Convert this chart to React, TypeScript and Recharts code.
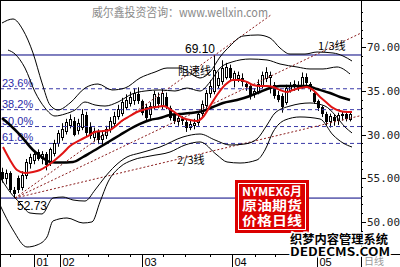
import React from 'react';
import { ComposedChart, Bar, Line, XAxis, YAxis, ReferenceLine } from 'recharts';

// Daily OHLC, one entry per trading day
const opens = [
  55.7, 54.9, 55.6, 53.7, 55.0, 53.9, 55.2, 56.6, 57.0, 58.0,
  57.2, 57.8, 56.8, 57.8, 58.9, 59.6, 60.3, 61.0, 61.6, 60.4,
  60.8, 62.2, 60.9, 59.6, 60.3, 59.4, 59.8, 60.5, 61.2, 62.0,
  62.4, 63.0, 63.5, 63.8, 64.6, 63.8, 63.2, 62.2, 63.1, 64.3,
  63.2, 64.3, 63.0, 62.2, 61.4, 61.8, 61.4, 60.8, 61.0, 61.3,
  62.3, 63.3, 64.6, 64.9, 65.6, 66.0, 66.5, 67.6, 66.2, 66.3,
  66.5, 65.8, 65.5, 64.5, 64.9, 65.6, 66.4, 66.5, 65.7, 64.5,
  64.4, 63.6, 65.0, 65.4, 65.7, 65.4, 66.6, 65.8, 64.8, 63.8,
  63.1, 62.4, 61.4, 62.0, 61.5, 62.1, 62.3, 61.7,
];
const highs = [
  56.2, 56.0, 55.8, 54.0, 55.3, 55.8, 57.2, 57.8, 58.2, 58.3,
  58.1, 58.0, 58.5, 59.4, 60.5, 61.3, 61.8, 62.3, 62.0, 61.8,
  62.9, 62.6, 61.4, 60.8, 60.6, 60.3, 61.0, 62.0, 62.6, 63.4,
  64.2, 64.6, 64.9, 65.3, 65.4, 64.0, 63.5, 63.7, 65.0, 64.8,
  65.2, 64.8, 63.3, 62.5, 62.2, 62.1, 61.8, 61.6, 61.8, 62.7,
  63.9, 65.1, 66.2, 69.1, 67.2, 68.5, 68.2, 68.0, 67.3, 67.2,
  67.0, 66.0, 65.8, 65.3, 66.3, 67.2, 67.7, 67.2, 66.0, 65.0,
  64.7, 65.7, 66.0, 66.2, 66.1, 67.1, 67.0, 66.0, 65.0, 64.0,
  63.3, 62.6, 62.4, 62.3, 62.5, 62.6, 62.7, 62.6,
];
const lows = [
  54.5, 54.3, 53.4, 52.73, 53.3, 53.6, 54.9, 56.1, 56.6, 57.0,
  56.6, 55.9, 56.4, 57.5, 58.6, 59.3, 60.0, 60.7, 59.8, 60.0,
  60.5, 59.8, 59.5, 59.2, 58.9, 58.7, 59.5, 60.2, 60.9, 61.7,
  62.1, 62.8, 63.2, 63.4, 63.5, 62.2, 61.6, 61.8, 62.9, 63.0,
  62.9, 62.9, 61.6, 61.2, 61.0, 61.1, 60.3, 60.5, 60.6, 61.0,
  62.0, 63.0, 64.2, 64.6, 65.3, 65.7, 66.3, 66.2, 65.4, 66.0,
  65.5, 65.0, 64.0, 64.2, 64.6, 65.3, 66.0, 64.7, 64.1, 63.7,
  62.5, 63.4, 64.8, 65.0, 65.0, 65.2, 65.5, 64.9, 63.5, 62.7,
  62.0, 61.0, 60.8, 61.0, 61.1, 61.6, 61.5, 61.5,
];
const closes = [
  54.9, 55.6, 53.7, 53.2, 53.7, 55.4, 56.9, 57.4, 57.8, 57.2,
  57.8, 56.5, 58.3, 59.0, 60.2, 60.6, 61.4, 61.8, 60.0, 61.3,
  62.4, 60.2, 59.8, 60.4, 59.4, 60.0, 60.6, 61.5, 62.1, 62.9,
  63.7, 63.9, 64.3, 64.8, 63.8, 62.5, 61.9, 63.3, 64.6, 63.5,
  64.7, 63.2, 61.9, 61.5, 61.9, 61.5, 60.8, 61.2, 61.3, 62.4,
  63.5, 64.7, 65.5, 67.4, 66.5, 67.6, 67.7, 66.5, 67.0, 66.8,
  66.0, 65.4, 64.4, 65.0, 65.8, 66.8, 67.2, 66.8, 64.4, 64.0,
  63.2, 65.3, 65.7, 65.8, 65.3, 66.6, 65.9, 65.2, 63.7, 63.0,
  62.3, 61.4, 62.1, 61.5, 62.2, 62.4, 61.8, 62.4,
];

// Moving averages: [day, price]
const maFast: [number, number][] = [
  [0, 58.57], [1.75, 57.09], [3.5, 55.94], [5.5, 55.6], [7.5, 55.71], [9.25, 55.94],
  [11, 56.4], [13, 57.09], [15, 57.89], [16.75, 58.69], [19.25, 59.37], [21.25, 59.83],
  [23, 60.29], [25, 60.4], [26.75, 60.52], [28.5, 61.09], [30, 61.66], [31.75, 62.12],
  [33.5, 62.58], [35, 62.81], [36.75, 63.04], [38.5, 63.15], [40, 63.26], [41.75, 62.92],
  [43.5, 62.35], [45, 61.89], [46.75, 61.66], [48.5, 61.55], [50, 62.01], [51.75, 63.26],
  [53.5, 64.52], [55.5, 65.67], [57.5, 66.24], [59.25, 66.24], [61, 66.01], [62.5, 65.67],
  [64.25, 65.55], [66, 65.55], [67.5, 65.44], [69.25, 65.1], [71, 64.87], [72.5, 65.1],
  [74.25, 65.32], [76, 65.44], [77.5, 65.1], [79.25, 64.29], [81, 63.61], [82.5, 63.04],
  [84.25, 62.69], [86, 62.58], [87.25, 62.58],
];
const maSlow: [number, number][] = [
  [-0.25, 61.89], [1.75, 61.09], [4.25, 59.95], [7.5, 58.23], [10, 57.31], [11.75, 56.86],
  [14.25, 56.8], [17.5, 56.86], [20, 57.43], [21.75, 57.89], [24.25, 58.57], [26.75, 59.26],
  [29.25, 59.95], [31.75, 60.63], [34.25, 61.21], [36.75, 61.66], [39.25, 61.89], [41.75, 62.24],
  [44.25, 62.35], [46.75, 62.46], [50, 62.69], [52.5, 63.15], [55, 63.61], [58.5, 63.95],
  [61.75, 64.41], [64.25, 64.87], [66.75, 65.32], [69.25, 65.55], [72.5, 65.55], [76, 65.55],
  [78.5, 65.21], [81.75, 64.75], [84.25, 64.29], [86.75, 63.95],
];

// Envelope bands: [day, price]
const bandUpperOuter: [number, number][] = [
  [-0.25, 72.76], [2.5, 73.22], [5, 71.96], [7.5, 69.33], [9.75, 65.9], [11.75, 63.38],
  [13.75, 62.81], [16.75, 63.61], [20.5, 65.32], [23.75, 65.78], [27.25, 65.1], [30.5, 65.32],
  [34.25, 66.47], [38, 67.15], [41, 67.61], [44.25, 67.61], [46.75, 67.04], [49.25, 66.47],
  [51.75, 67.15], [54.25, 68.87], [56.75, 70.13], [60, 71.27], [63.75, 71.39], [66.75, 71.05],
  [69.25, 69.9], [71.75, 69.21], [75.5, 69.21], [78.5, 69.44], [82.5, 69.33], [85, 68.99],
  [87.25, 68.41],
];
const bandUpperInner: [number, number][] = [
  [1.25, 69.67], [3, 69.21], [5.5, 67.61], [8, 64.87], [10.5, 63.04], [13, 62.12],
  [15.5, 62.35], [18, 62.81], [20.5, 63.72], [23, 63.38], [25.5, 63.26], [28.75, 63.72],
  [32.25, 64.64], [35.5, 64.98], [39.25, 65.1], [43, 64.98], [46, 65.32], [49.25, 64.98],
  [51.75, 66.01], [54.25, 67.61], [57.25, 68.3], [61.75, 68.64], [66, 68.53], [69.25, 68.07],
  [73.5, 67.73], [76.75, 67.5], [80, 67.5], [83.5, 67.73], [86.75, 66.93],
];
const bandLowerInner: [number, number][] = [
  [-0.75, 55.14], [1.75, 53.42], [4.25, 52.17], [6.75, 51.02], [9.75, 50.91], [12.5, 52.74],
  [15, 52.85], [17.5, 52.51], [20.5, 52.39], [23, 53.65], [25.5, 55.14], [28, 56.4],
  [31, 57.43], [34.25, 57.89], [39.25, 58.57], [45, 59.72], [49.25, 60.06], [53, 59.37],
  [56.75, 58.8], [60.5, 58.92], [63.5, 59.49], [66, 61.09], [68, 62.46], [71.75, 63.26],
  [76.75, 63.61], [80.5, 63.26], [83, 62.24], [85.5, 60.86], [87.25, 60.18],
];
const bandLowerOuter: [number, number][] = [
  [-0.75, 51.94], [2.5, 49.08], [6, 47.13], [8.5, 47.36], [11, 48.28], [12.5, 50.11],
  [16, 50.45], [20, 49.88], [22.25, 50.0], [24.25, 52.28], [26.25, 54.57], [29.25, 56.28],
  [32.5, 57.09], [36.75, 57.54], [41.75, 58.0], [45.5, 58.8], [49.25, 59.15], [53.5, 57.66],
  [56, 56.86], [59.25, 56.74], [63.5, 57.09], [65.5, 58.23], [67.5, 60.29], [70.5, 61.66],
  [74.25, 62.01], [79.25, 61.78], [82.5, 59.95], [85, 59.03], [87.25, 58.57],
];

// Speed resistance lines from the swing low
const speedLineFull: [number, number][] = [[3, 52.73], [67.25, 73.77]];
const speedLineTwoThirds: [number, number][] = [[3, 52.73], [89.5, 71.61]];
const speedLineOneThird: [number, number][] = [[3, 52.73], [89.5, 62.17]];

const swingHigh = 69.1;
const swingLow = 52.73;
const fibRatios = [0.236, 0.382, 0.5, 0.618];
const fibLabels = ['23.6%', '38.2%', '50.0%', '61.8%'];

const monthTicks = [7.75, 14.25, 34.75, 57.25, 78.5];
const monthLabels = ['01', '02', '03', '04', '05'];
const weekTicks = [1.75, 11, 21.25, 26.25, 31.75, 40, 45.5, 51.75, 63, 68, 73.5, 84.25];

const yMajorTicks = [70, 65, 60, 55, 50];
const yTickLabels = ['70.00', '35.00', '30.00', '55.00', '50.00'];
const yMinorTicks = [47, 48, 49, 51, 52, 53, 54, 56, 57, 58, 59, 61, 62, 63, 64, 66, 67, 68, 69, 71, 72, 73, 74];

const Y_DOMAIN: [number, number] = [46.33, 75.164];
const X_DOMAIN: [number, number] = [-0.5, 89.5];

const candleRows = opens.map((o, i) => ({ i, o, h: highs[i], l: lows[i], c: closes[i] }));
const toPts = (arr: [number, number][]) => arr.map(([i, v]) => ({ i, v }));
const fibLevels = fibRatios.map((r) => swingHigh - r * (swingHigh - swingLow));

const LABEL_FONT = 'Liberation Sans, Arial, sans-serif';
const CJK_FONT = 'Noto Sans CJK SC, sans-serif';

const Candle = (props: any) => {
  const { x, y, width, height, payload } = props;
  if (!payload || x == null || y == null) return null;
  const { o, h, l, c } = payload;
  const top = Math.min(y, y + height);
  const bot = Math.max(y, y + height);
  const span = h - l;
  const py = (v: number) => (span === 0 ? top : top + ((h - v) / span) * (bot - top));
  const X = Math.floor(x + width / 2);
  const bTop = Math.round(Math.min(py(o), py(c)));
  const bBot = Math.max(bTop + 1, Math.round(Math.max(py(o), py(c))));
  const up = c >= o;
  return (
    <g>
      <line x1={X + 0.5} x2={X + 0.5} y1={top} y2={bot} stroke="#000" strokeWidth={1} />
      {up ? (
        <rect x={X - 0.5} y={bTop + 0.5} width={2} height={Math.max(1, bBot - bTop - 1)} fill="#fff" stroke="#000" strokeWidth={1} />
      ) : (
        <rect x={X - 1} y={bTop} width={3} height={bBot - bTop} fill="#000" />
      )}
    </g>
  );
};

const XTick = (props: any) => {
  const { x, y, payload } = props;
  const idx = monthTicks.indexOf(payload.value);
  const px = Math.round(x) + 0.5;
  if (idx >= 0) {
    return (
      <g>
        <line x1={px} x2={px} y1={y} y2={y + 13} stroke="#000" />
        <text x={px + 2} y={y + 12} fontSize={11} fontFamily={LABEL_FONT} fill="#000">
          {monthLabels[idx]}
        </text>
      </g>
    );
  }
  return <line x1={px} x2={px} y1={y} y2={y + 3} stroke="#000" />;
};

const YTick = (props: any) => {
  const { x, y, payload } = props;
  const idx = yMajorTicks.indexOf(payload.value);
  const py = Math.round(y) + 0.5;
  if (idx >= 0) {
    return (
      <g>
        <line x1={x} x2={x + 5} y1={py} y2={py} stroke="#000" />
        <text x={x + 6} y={y + 4} fontSize={11} fontFamily="DejaVu Sans Mono, monospace" fill="#222">
          {yTickLabels[idx]}
        </text>
      </g>
    );
  }
  return <line x1={x} x2={x + 2} y1={py} y2={py} stroke="#000" />;
};

const levelLabel = (text: string, dx: number, dy: number, color: string, size: number) => (p: any) => {
  const vb = p.viewBox || {};
  return (
    <text x={(vb.x ?? 0) + dx} y={(vb.y ?? 0) + dy} fill={color} fontSize={size} fontFamily={LABEL_FONT}>
      {text}
    </text>
  );
};

const thin = { dot: false, isAnimationActive: false, stroke: '#000', strokeWidth: 1, type: 'monotone' as const };
const speed = { dot: false, isAnimationActive: false, stroke: '#8a1c1c', strokeWidth: 1, strokeDasharray: '2 2', type: 'linear' as const };

export default function App() {
  return (
    <div style={{ position: 'absolute', left: 0, top: 0, width: 400, height: 267, background: '#fff', overflow: 'hidden' }}>
      <ComposedChart
        width={400}
        height={267}
        data={candleRows}
        margin={{ top: 2, right: 0, bottom: 0, left: 1 }}
      >
        <XAxis
          type="number"
          dataKey="i"
          domain={X_DOMAIN}
          allowDataOverflow
          ticks={[...weekTicks, ...monthTicks]}
          interval={0}
          tick={<XTick />}
          tickSize={0}
          tickMargin={0}
          tickLine={false}
          axisLine={false}
          height={13}
        />
        <YAxis
          type="number"
          orientation="right"
          domain={Y_DOMAIN}
          allowDataOverflow
          ticks={[...yMinorTicks, ...yMajorTicks]}
          interval={0}
          tick={<YTick />}
          tickSize={0}
          tickMargin={0}
          tickLine={false}
          axisLine={false}
          width={39}
        />
        <ReferenceLine y={swingHigh} stroke="#000080" strokeWidth={1} label={levelLabel('69.10', 184, -2, '#000', 12)} />
        <ReferenceLine y={swingLow} stroke="#000080" strokeWidth={1} label={levelLabel('52.73', 16, 12, '#000', 12)} />
        {fibLevels.map((lv, k) => (
          <ReferenceLine
            key={fibLabels[k]}
            y={lv}
            stroke="#3a3aa8"
            strokeDasharray="4 3"
            strokeWidth={1}
            label={levelLabel(fibLabels[k], 1, -2, '#2a2aa8', 11)}
          />
        ))}
        <Line data={toPts(speedLineFull)} dataKey="v" {...speed} />
        <Line data={toPts(speedLineTwoThirds)} dataKey="v" {...speed} />
        <Line data={toPts(speedLineOneThird)} dataKey="v" {...speed} />
        <Line data={toPts(bandUpperOuter)} dataKey="v" {...thin} />
        <Line data={toPts(bandUpperInner)} dataKey="v" {...thin} />
        <Line data={toPts(bandLowerInner)} dataKey="v" {...thin} />
        <Line data={toPts(bandLowerOuter)} dataKey="v" {...thin} />
        <Bar
          dataKey={(d: any) => [d.l, d.h]}
          barSize={3}
          isAnimationActive={false}
          shape={(p: any) => <Candle {...p} />}
        />
        <Line data={toPts(maSlow)} dataKey="v" type="monotone" stroke="#000" strokeWidth={2.5} dot={false} isAnimationActive={false} />
        <Line data={toPts(maFast)} dataKey="v" type="monotone" stroke="#e01414" strokeWidth={2} dot={false} isAnimationActive={false} />
      </ComposedChart>

      <svg width={400} height={267} style={{ position: 'absolute', left: 0, top: 0, pointerEvents: 'none' }}>
        <line x1={0} x2={400} y1={0.5} y2={0.5} stroke="#000" />
        <line x1={0.5} x2={0.5} y1={0} y2={267} stroke="#000" />
        <line x1={361.5} x2={361.5} y1={0} y2={267} stroke="#000" />
        <line x1={0} x2={400} y1={254.5} y2={254.5} stroke="#000" />

        <text x={92} y={17} fontSize={12} fill="#8a8a8a" fontFamily={CJK_FONT} textLength={176} lengthAdjust="spacingAndGlyphs">
          威尔鑫投资咨询：www.wellxin.com
        </text>

        <text x={178} y={75} fontSize={11} fill="#000" fontFamily={CJK_FONT}>阻速线</text>
        <text x={318} y={50} fontSize={11} fill="#000" fontFamily={CJK_FONT}>1/3线</text>
        <text x={177} y={164} fontSize={11} fill="#000" fontFamily={CJK_FONT}>2/3线</text>

        <rect x={235} y={180} width={74} height={53} fill="#dc0000" />
        <rect x={238.5} y={183.5} width={67} height={46} fill="none" stroke="#fff" strokeWidth={1} />
        <g fill="#fff" fontWeight="bold" fontFamily={CJK_FONT}>
          <text x={242} y={196} fontSize={12} textLength={60} lengthAdjust="spacingAndGlyphs">NYMEX6月</text>
          <text x={242} y={210} fontSize={13} textLength={60} lengthAdjust="spacingAndGlyphs">原油期货</text>
          <text x={242} y={225} fontSize={13} textLength={60} lengthAdjust="spacingAndGlyphs">价格日线</text>
        </g>

        <g fontWeight="bold" fontFamily={CJK_FONT} fill="#000" stroke="#fff" strokeWidth={3} style={{ paintOrder: 'stroke' }}>
          <text x={290} y={244} fontSize={12} textLength={98} lengthAdjust="spacingAndGlyphs">织梦内容管理系统</text>
          <text x={290} y={256} fontSize={11} textLength={100} lengthAdjust="spacingAndGlyphs">DEDECMS.COM</text>
        </g>
        <text x={364} y={265} fontSize={10} fill="#9a9a9a" fontFamily={CJK_FONT}>日线</text>
      </svg>
    </div>
  );
}
